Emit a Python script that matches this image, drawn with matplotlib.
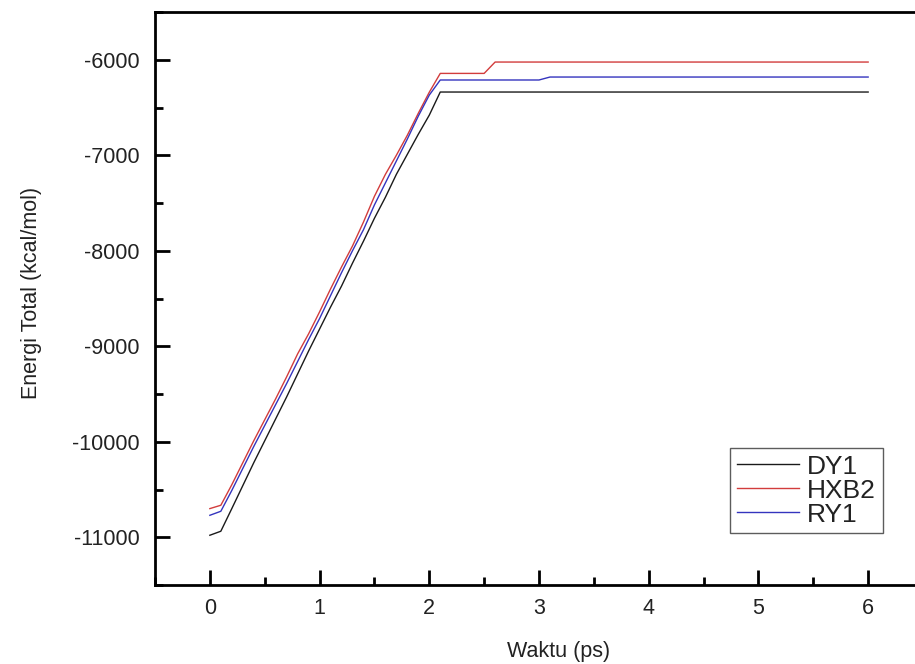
import numpy as np
import matplotlib.pyplot as plt

plt.rcParams['font.family'] = ['Liberation Sans', 'DejaVu Sans']
plt.rcParams['axes.unicode_minus'] = False

# waktu (ps) and total energy (kcal/mol)
t_ramp = [0.0, 0.1, 0.2, 0.3, 0.4, 0.5, 0.6, 0.7, 0.8, 0.9, 1.0,
          1.1, 1.2, 1.3, 1.4, 1.5, 1.6, 1.7, 1.8, 1.9, 2.0, 2.1]

dy1_t = t_ramp + [6.0]
dy1_e = [-10979, -10937, -10700, -10460, -10220, -9990, -9760, -9530, -9290, -9050, -8820,
         -8590, -8370, -8130, -7900, -7660, -7440, -7200, -6990, -6780, -6580, -6338,
         -6338]

hxb2_t = t_ramp + [2.5, 2.6, 6.0]
hxb2_e = [-10700, -10665, -10450, -10220, -9990, -9770, -9550, -9320, -9080, -8870, -8640,
          -8400, -8170, -7950, -7700, -7430, -7200, -7000, -6790, -6560, -6340, -6143,
          -6143, -6024, -6024]

ry1_t = t_ramp + [3.0, 3.1, 6.0]
ry1_e = [-10770, -10728, -10510, -10280, -10050, -9830, -9610, -9390, -9160, -8930, -8710,
         -8470, -8230, -8000, -7780, -7520, -7290, -7060, -6830, -6590, -6370, -6212,
         -6212, -6181, -6181]

labels = ['DY1', 'HXB2', 'RY1']
colors = ['#1a1a1a', '#d23c3c', '#3434be']

fig = plt.figure(figsize=(9.15, 6.64), dpi=100)
ax = fig.add_axes([155 / 915, 79 / 664, 768 / 915, 573 / 664])

ax.plot(dy1_t, dy1_e, color=colors[0], lw=1.0, label=labels[0])
ax.plot(hxb2_t, hxb2_e, color=colors[1], lw=1.0, label=labels[1])
ax.plot(ry1_t, ry1_e, color=colors[2], lw=1.0, label=labels[2])

ax.set_xlim(-0.5, 6.5)
ax.set_ylim(-11500, -5500)
ax.set_xticks(np.arange(0, 7, 1))
ax.set_xticks(np.arange(-0.5, 6.6, 0.5), minor=True)
ax.set_yticks(np.arange(-11000, -5999, 1000))
ax.set_yticks(np.arange(-11500, -5499, 500), minor=True)

for side in ['left', 'top', 'bottom']:
    ax.spines[side].set_linewidth(2)
ax.spines['right'].set_visible(False)

ax.tick_params(which='both', direction='in', width=2, colors='black',
               labelcolor='#222222', labelsize=15.5)
ax.tick_params(which='major', length=11)
ax.tick_params(which='minor', length=6)
ax.tick_params(axis='y', pad=11)
ax.tick_params(axis='x', pad=9)

ax.set_xlabel('Waktu (ps)', fontsize=15.5, color='#222222')
ax.set_ylabel('Energi Total (kcal/mol)', fontsize=15.5, color='#222222')
ax.xaxis.set_label_coords(0.526, -0.097)
ax.yaxis.set_label_coords(-0.147, 0.51)

leg = ax.legend(loc='upper left', bbox_to_anchor=(730 / 915, 1 - 448 / 664),
                bbox_transform=fig.transFigure, borderaxespad=0, fontsize=19,
                handlelength=2.35, handletextpad=0.33, labelspacing=0.0,
                borderpad=0.25, fancybox=False, frameon=True)
leg.get_frame().set_edgecolor('#333333')
leg.get_frame().set_linewidth(1.0)
for txt in leg.get_texts():
    txt.set_color('#222222')

fig.savefig('out.png', dpi=100)
